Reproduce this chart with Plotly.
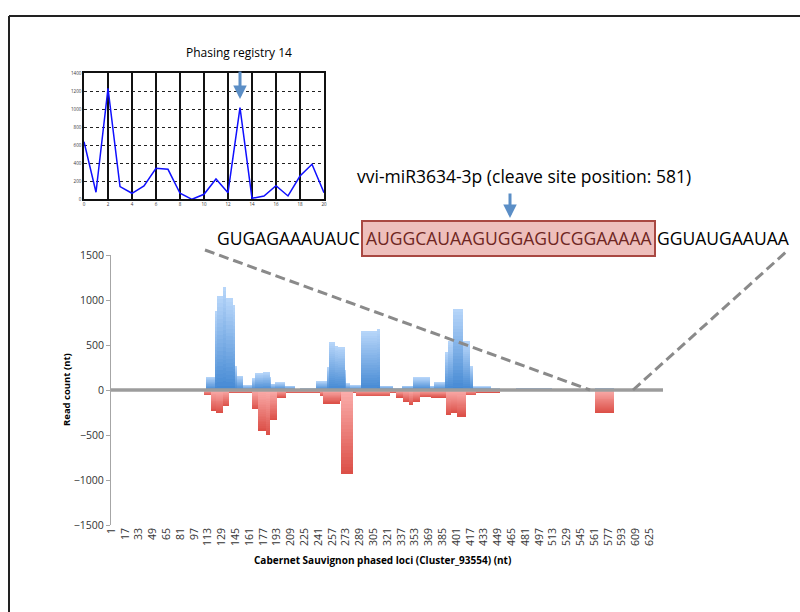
import plotly.graph_objects as go

# ---------------- data ----------------
# Read-count runs along the phased locus (start inclusive, end exclusive, value)
POS_RUN_START = [111, 121, 124, 132, 134, 143, 145, 147, 154, 164, 168, 177, 185, 187, 191, 203,
                 220, 239, 251, 254, 261, 264, 272, 274, 278, 291, 309, 313, 328, 338, 351, 371,
                 376, 388, 392, 397, 409, 417, 421, 442, 471, 562]
POS_RUN_END = [121, 124, 132, 134, 143, 145, 147, 154, 164, 168, 177, 185, 187, 191, 203, 214,
               239, 251, 254, 261, 264, 272, 274, 278, 291, 309, 313, 328, 338, 351, 371, 376,
               388, 392, 397, 409, 417, 421, 442, 452, 512, 584]
POS_RUN_VALUE = [150, 880, 1050, 1150, 1020, 950, 270, 160, 55, 130, 185, 195, 150, 70, 85, 50,
                 15, 100, 260, 530, 490, 480, 220, 75, 55, 660, 680, 50, 15, 50, 140, 50,
                 90, 420, 540, 905, 540, 265, 40, 15, 18, 18]

NEG_RUN_START = [109, 117, 123, 131, 138, 164, 172, 181, 185, 193, 204, 243, 247, 266, 268,
                 282, 285, 324, 332, 339, 347, 351, 359, 372, 389, 395, 402, 413, 424, 562]
NEG_RUN_END = [117, 123, 131, 138, 164, 172, 181, 185, 193, 204, 243, 247, 266, 268, 282,
               285, 324, 332, 339, 347, 351, 359, 372, 389, 395, 402, 413, 424, 452, 584]
NEG_RUN_VALUE = [-60, -235, -255, -180, -35, -215, -455, -505, -335, -90, -35, -70, -150, -120, -935,
                 -35, -70, -35, -85, -130, -170, -130, -80, -85, -280, -260, -295, -60, -30, -252]

LOCUS_LENGTH = 640
X_TICK_LABELS = [str(v) for v in range(1, 626, 16)]

# Phasing registry profile (inset)
REGISTRY = list(range(0, 21))
REGISTRY_READS = [640, 78, 1233, 141, 67, 148, 344, 333, 67, 0, 56, 226, 74, 1019, 11, 37,
                  152, 37, 259, 389, 74]

SEQ_LEFT = "GUGAGAAAUAUC"
SEQ_SITE = "AUGGCAUAAGUGGAGUCGGAAAAA"
SEQ_RIGHT = "GGUAUGAAUAA"

# ---------------- helpers ----------------
W, H = 800, 612
FONT = "Open Sans"


def px(x):
    return x / W


def py(y):
    return 1 - y / H


def lerp(c1, c2, t):
    return "rgb(%d,%d,%d)" % tuple(round(a + (b - a) * t) for a, b in zip(c1, c2))


def runs_to_bars(starts, ends, values):
    centers = [(s + e - 1) / 2 for s, e in zip(starts, ends)]
    widths = [e - s for s, e in zip(starts, ends)]
    return centers, widths, values


fig = go.Figure()

# gradient-filled bars built from stacked, progressively shorter layers
N_LAYERS = 24
BLUE_LIGHT, BLUE_DARK = (182, 213, 249), (70, 138, 212)
RED_LIGHT, RED_DARK = (250, 172, 170), (220, 80, 72)

cx, wd, vals = runs_to_bars(POS_RUN_START, POS_RUN_END, POS_RUN_VALUE)
for i in range(N_LAYERS):
    f = 1 - i / N_LAYERS
    fig.add_trace(go.Bar(x=cx, y=[v * f for v in vals], width=wd,
                         marker=dict(color=lerp(BLUE_LIGHT, BLUE_DARK, i / (N_LAYERS - 1)), line_width=0),
                         xaxis="x", yaxis="y", showlegend=False, hoverinfo="skip"))

cx, wd, vals = runs_to_bars(NEG_RUN_START, NEG_RUN_END, NEG_RUN_VALUE)
for i in range(N_LAYERS):
    f = 1 - i / N_LAYERS
    fig.add_trace(go.Bar(x=cx, y=[v * f for v in vals], width=wd,
                         marker=dict(color=lerp(RED_DARK, RED_LIGHT, i / (N_LAYERS - 1)), line_width=0),
                         xaxis="x", yaxis="y", showlegend=False, hoverinfo="skip"))

# horizontal axis line at zero
fig.add_trace(go.Scatter(x=[0.5, LOCUS_LENGTH + 0.5], y=[0, 0], mode="lines",
                         line=dict(color="#9c9c9c", width=3.5),
                         xaxis="x", yaxis="y", showlegend=False, hoverinfo="skip"))

# inset: phasing registry
fig.add_trace(go.Scatter(x=REGISTRY, y=REGISTRY_READS, mode="lines",
                         line=dict(color="#1010ff", width=1.5),
                         xaxis="x2", yaxis="y2", showlegend=False, hoverinfo="skip"))

tick_font = dict(family=FONT, size=10.5, color="#333333")
small_font = dict(family=FONT, size=4.5, color="#333333")

fig.update_layout(
    width=W, height=H,
    margin=dict(l=0, r=0, t=0, b=0),
    paper_bgcolor="white", plot_bgcolor="rgba(0,0,0,0)",
    barmode="overlay", bargap=0,
    xaxis=dict(domain=[px(111), px(663)], range=[0.5, LOCUS_LENGTH + 0.5],
               tickmode="array", tickvals=list(range(1, 626, 16)), ticktext=X_TICK_LABELS,
               tickangle=-90, tickfont=tick_font, showgrid=False, zeroline=False,
               showline=False, ticks="", automargin=False, ticklabeloverflow="allow"),
    yaxis=dict(domain=[py(525), py(255)], range=[-1500, 1500], dtick=500,
               tickfont=tick_font, showgrid=False, zeroline=False,
               showline=True, linecolor="#a6a6a6", linewidth=1,
               ticks="outside", ticklen=4, tickcolor="#a6a6a6", automargin=False,
               ticklabeloverflow="allow"),
    xaxis2=dict(domain=[px(84), px(324)], range=[0, 20], dtick=2, anchor="y2",
                tickfont=small_font, showgrid=True, gridcolor="#111111", gridwidth=1.6,
                zeroline=False, showline=True, linecolor="#111111", linewidth=1.5, mirror=True,
                ticks="", automargin=False, ticklabeloverflow="allow"),
    yaxis2=dict(domain=[py(199.3), py(73.3)], range=[0, 1400], dtick=200, anchor="x2",
                tickfont=small_font, showgrid=True, gridcolor="#222222", gridwidth=1.2,
                griddash="dot", zeroline=False, showline=True, linecolor="#111111",
                linewidth=1.5, mirror=True, ticks="", automargin=False,
                ticklabeloverflow="allow"),
)

guide = dict(color="#8a8a8a", width=3, dash="10px,5px")
shapes = [
    # outer frame (top and left edges)
    dict(type="line", xref="paper", yref="paper", x0=px(9), y0=py(16), x1=1.0, y1=py(16),
         line=dict(color="#222222", width=2)),
    dict(type="line", xref="paper", yref="paper", x0=px(9), y0=py(16), x1=px(9), y1=0,
         line=dict(color="#222222", width=2)),
    # zoom guides from the locus to the sequence
    dict(type="line", xref="paper", yref="paper", x0=px(205), y0=py(250), x1=px(590), y1=py(390),
         line=guide, layer="above"),
    dict(type="line", xref="paper", yref="paper", x0=px(633), y0=py(390), x1=px(786), y1=py(252),
         line=guide, layer="above"),
    # target-site box
    dict(type="rect", xref="paper", yref="paper", x0=px(362), y0=py(256), x1=px(655), y1=py(221),
         fillcolor="rgba(232,170,165,0.75)", line=dict(color="#a94842", width=2), layer="below"),
]
fig.update_layout(shapes=shapes)


def label(text, x, y, size, color="black", xanchor="center", angle=0):
    return dict(text=text, x=px(x), y=py(y), xref="paper", yref="paper",
                xanchor=xanchor, yanchor="middle", textangle=angle, showarrow=False,
                font=dict(family=FONT, size=size, color=color))


def down_arrow(x, y_tip, length):
    return dict(text="", x=px(x), y=py(y_tip), xref="paper", yref="paper", showarrow=True,
                ax=0, ay=-length, arrowcolor="#5b8ec6", arrowwidth=3, arrowhead=2,
                arrowsize=0.9, standoff=0)


annotations = [
    label("Phasing registry 14", 239, 52, 12),
    down_arrow(240, 99, 29),
    label("vvi-miR3634-3p (cleave site position: 581)", 524, 176, 17.5),
    down_arrow(510, 218, 26),
    label(SEQ_LEFT, 362, 238, 17.5, xanchor="right"),
    label(SEQ_SITE, 508.5, 238, 17.5, color="#6e2622"),
    label(SEQ_RIGHT, 655, 238, 17.5, xanchor="left"),
    label("<b>Read count (nt)</b>", 66, 390, 9.5, angle=-90),
    label("<b>Cabernet Sauvignon phased loci (Cluster_93554) (nt)</b>", 382, 560, 10),
]
fig.update_layout(annotations=annotations)

fig.write_html("out.html")
